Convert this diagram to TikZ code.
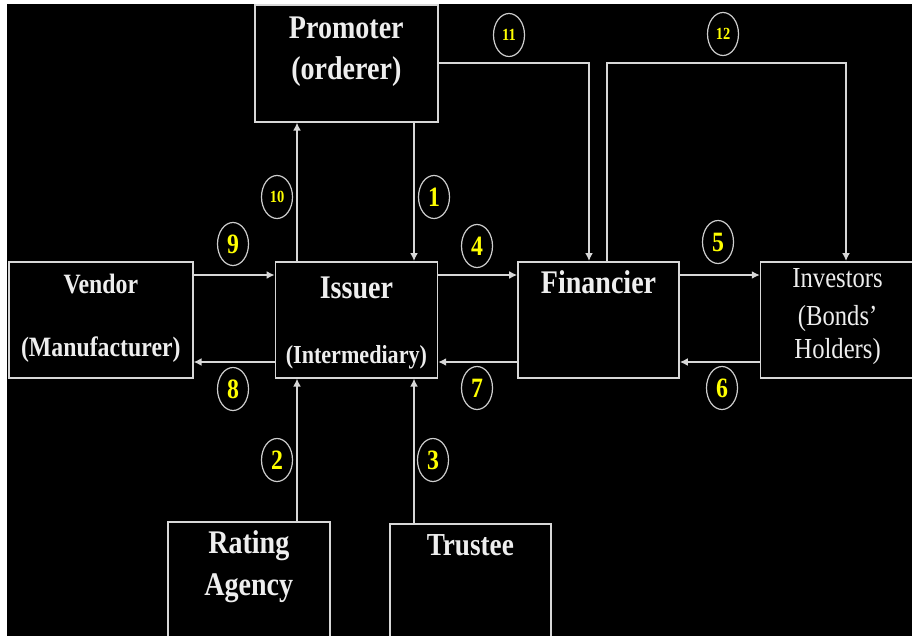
\documentclass[tikz,border=0pt]{standalone}
\usepackage{fontspec}
\newfontfamily\slidefont[FakeStretch=0.85,Ligatures=TeX]{Liberation Serif}
\usepackage{tikz}
\usetikzlibrary{shapes,arrows.meta,positioning}
\definecolor{boxline}{RGB}{215,215,215}
\definecolor{boxtext}{RGB}{238,238,238}
\definecolor{ringline}{RGB}{205,205,205}
\definecolor{numyellow}{RGB}{255,255,0}

\begin{document}
\begin{tikzpicture}[auto,>={Latex[length=8pt,width=8pt]},x=1pt,y=-1pt]
    \tikzstyle{block} = [draw=boxline, shape=rectangle, line width=1.6pt, inner sep=0pt, minimum height=116pt, anchor=north west]
    \tikzstyle{heading} = [text=boxtext, anchor=base, inner sep=0pt, font=\slidefont\bfseries\fontsize{33pt}{36pt}\selectfont]
    \tikzstyle{subheading} = [heading, font=\slidefont\bfseries\fontsize{28pt}{30pt}\selectfont]
    \tikzstyle{smallheading} = [heading, font=\slidefont\bfseries\fontsize{26pt}{28pt}\selectfont]
    \tikzstyle{plainheading} = [heading, font=\slidefont\fontsize{29pt}{31pt}\selectfont]
    \tikzstyle{badge} = [draw=ringline, shape=ellipse, minimum width=31pt, minimum height=43pt, inner sep=0pt, line width=1.2pt, text=numyellow, font=\slidefont\bfseries\fontsize{28pt}{30pt}\selectfont]
    \tikzstyle{smallbadge} = [badge, font=\slidefont\bfseries\fontsize{17pt}{19pt}\selectfont]

    \useasboundingbox (0,0) rectangle (912,636);
    \clip (0,0) rectangle (912,636);
    \fill[white] (0,0) rectangle (912,636);
    \fill[black] (7,4) rectangle (912,636);

    %Creating Blocks
    \node [block, minimum width=184pt] (vendor) at (8,261) {};
    \node [block, minimum width=162pt, right=81pt of vendor] (issuer) {};
    \node [block, minimum width=161pt, right=79pt of issuer] (financier) {};
    \node [block, minimum width=154pt, right=80pt of financier] (investors) {};
    \node [block, minimum width=183pt, minimum height=117pt] (promoter) at (254,4) {};
    \node [block, minimum width=162pt, minimum height=115pt] (rating) at (167,521) {};
    \node [block, minimum width=161pt, minimum height=115pt] (trustee) at (389,523) {};

    %Texts in the Blocks
    \node [heading] (promoter_1) at ([yshift=-35pt]promoter.north) {Promoter};
    \node [heading] (promoter_2) at ([yshift=-76pt]promoter.north) {(orderer)};
    \node [subheading] (vendor_1) at ([yshift=-32pt]vendor.north) {Vendor};
    \node [subheading] (vendor_2) at ([yshift=-95pt]vendor.north) {(Manufacturer)};
    \node [heading] (issuer_1) at ([yshift=-37pt]issuer.north) {Issuer};
    \node [smallheading] (issuer_2) at ([yshift=-102pt]issuer.north) {(Intermediary)};
    \node [heading] (financier_1) at ([yshift=-32pt]financier.north) {Financier};
    \node [plainheading] (investors_1) at ([yshift=-26pt]investors.north) {Investors};
    \node [plainheading] (investors_2) at ([yshift=-64pt]investors.north) {(Bonds'};
    \node [plainheading] (investors_3) at ([yshift=-97pt]investors.north) {Holders)};
    \node [heading] (rating_1) at ([yshift=-32pt]rating.north) {Rating};
    \node [heading] (rating_2) at ([yshift=-74pt]rating.north) {Agency};
    \node [heading, font=\slidefont\bfseries\fontsize{32pt}{34pt}\selectfont] (trustee_1) at ([yshift=-32pt]trustee.north) {Trustee};

    %Step Numbers
    \node [badge] (num_1) at (434,197) {1};
    \node [badge] (num_2) at (277,460) {2};
    \node [badge] (num_3) at (433,460) {3};
    \node [badge] (num_4) at (477,246) {4};
    \node [badge] (num_5) at (718,242) {5};
    \node [badge] (num_6) at (722,388) {6};
    \node [badge] (num_7) at (477,388) {7};
    \node [badge] (num_8) at (233,389) {8};
    \node [badge] (num_9) at (233,244) {9};
    \node [smallbadge] (num_10) at (277,197) {10};
    \node [smallbadge] (num_11) at (509,35) {11};
    \node [smallbadge] (num_12) at (723,34) {12};

    %Connection Coordinates
    \coordinate (upper_row) at (0,275);
    \coordinate (lower_row) at (0,362);
    \coordinate (left_col) at (297,0);
    \coordinate (right_col) at (414,0);
    \coordinate (top_bus) at (0,63);
    \coordinate (fin_in) at (589,0);
    \coordinate (fin_out) at (607,0);
    \coordinate (inv_in) at (846,0);

    %Conecting Blocks
    \begin{scope}[line width=1.6pt, color=boxline]
        \draw[->] (right_col |- promoter.south) -- (right_col |- issuer.north);
        \draw[->] (left_col |- rating.north) -- (left_col |- issuer.south);
        \draw[->] (right_col |- trustee.north) -- (right_col |- issuer.south);
        \draw[->] (issuer.east |- upper_row) -- (financier.west |- upper_row);
        \draw[->] (financier.east |- upper_row) -- (investors.west |- upper_row);
        \draw[->] (investors.west |- lower_row) -- (financier.east |- lower_row);
        \draw[->] (financier.west |- lower_row) -- (issuer.east |- lower_row);
        \draw[->] (issuer.west |- lower_row) -- (vendor.east |- lower_row);
        \draw[->] (vendor.east |- upper_row) -- (issuer.west |- upper_row);
        \draw[->] (left_col |- issuer.north) -- (left_col |- promoter.south);
        \draw[->] (promoter.east |- top_bus) -| (fin_in |- financier.north);
        \draw[->] (fin_out |- financier.north) |- (inv_in |- top_bus) -- (inv_in |- investors.north);
    \end{scope}
\end{tikzpicture}
\end{document}
